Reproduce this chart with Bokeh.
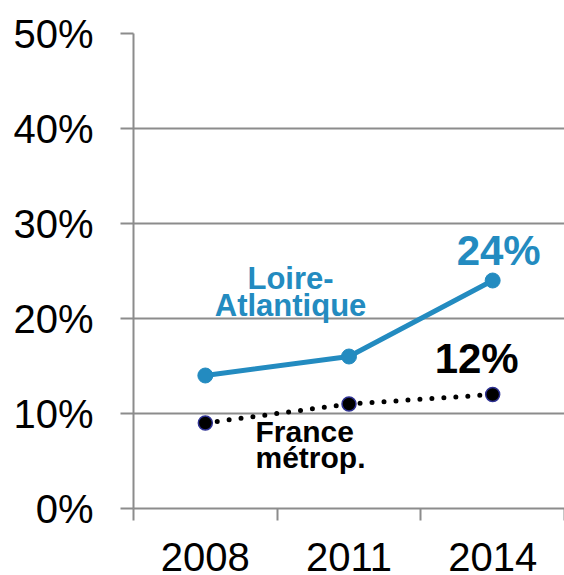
from bokeh.plotting import figure
from bokeh.models import Range1d, FixedTicker, Label
from bokeh.embed import file_html
from bokeh.resources import INLINE

years = ["2008", "2011", "2014"]
loire = [14, 16, 24]
france = [9, 11, 12]
yticks = [0, 10, 20, 30, 40, 50]

BLUE = "#238BC0"
GRAY = "#8C8C8C"
FONT = "Liberation Sans"

xs = [i + 0.5 for i in range(len(years))]
bounds = list(range(len(years) + 1))

p = figure(width=564, height=575, output_backend="svg", toolbar_location=None,
           x_range=Range1d(0, len(years)), y_range=Range1d(0, 50),
           min_border_left=133, min_border_right=0, min_border_top=33, min_border_bottom=67)
p.outline_line_color = None
p.background_fill_color = "white"
p.border_fill_color = "white"

# grid
p.xgrid.visible = False
p.ygrid.ticker = FixedTicker(ticks=yticks)
p.ygrid.grid_line_color = GRAY
p.ygrid.grid_line_width = 2

# y axis
p.yaxis.ticker = FixedTicker(ticks=yticks)
p.yaxis.major_label_overrides = {t: f"{t}%" for t in yticks}
p.yaxis.axis_line_color = GRAY
p.yaxis.axis_line_width = 2
p.yaxis.major_tick_line_color = GRAY
p.yaxis.major_tick_line_width = 2
p.yaxis.major_tick_out = 13
p.yaxis.major_tick_in = 0
p.yaxis.minor_tick_line_color = None
p.yaxis.major_label_standoff = 27
p.yaxis.major_label_text_font = FONT
p.yaxis.major_label_text_font_size = "40px"
p.yaxis.major_label_text_color = "black"

# x axis
p.xaxis.ticker = FixedTicker(ticks=xs, minor_ticks=bounds)
p.xaxis.major_label_overrides = {x: y for x, y in zip(xs, years)}
p.xaxis.axis_line_color = GRAY
p.xaxis.axis_line_width = 2
p.xaxis.major_tick_line_color = None
p.xaxis.major_tick_out = 0
p.xaxis.major_tick_in = 0
p.xaxis.minor_tick_line_color = GRAY
p.xaxis.minor_tick_line_width = 2
p.xaxis.minor_tick_out = 12
p.xaxis.minor_tick_in = 0
p.xaxis.major_label_standoff = 22
p.xaxis.major_label_text_font = FONT
p.xaxis.major_label_text_font_size = "40px"
p.xaxis.major_label_text_color = "black"

# series
p.line(xs, loire, line_color=BLUE, line_width=5)
p.scatter(xs, loire, size=15, fill_color=BLUE, line_color=BLUE)
p.line(xs, france, line_color="black", line_width=5, line_dash="0 12", line_cap="round")
p.scatter(xs, france, size=14, fill_color="black", line_color="#2E3192", line_width=1.5)

# labels
p.add_layout(Label(x=xs[-1], y=loire[-1], text=f"{loire[-1]}%", x_offset=6, y_offset=30.5,
                   text_align="center", text_baseline="alphabetic", text_font=FONT,
                   text_font_style="bold", text_font_size="42px", text_color=BLUE))
p.add_layout(Label(x=xs[-1], y=france[-1], text=f"{france[-1]}%", x_offset=-16, y_offset=36.5,
                   text_align="center", text_baseline="alphabetic", text_font=FONT,
                   text_font_style="bold", text_font_size="42px", text_color="black"))
for txt, yy in [("Loire-", 24.26), ("Atlantique", 21.36)]:
    p.add_layout(Label(x=1.093, y=yy, text=txt, text_align="center", text_baseline="alphabetic",
                       text_font=FONT, text_font_style="bold", text_font_size="31px",
                       text_color=BLUE))
for txt, yy in [("France", 8.12), ("métrop.", 5.39)]:
    p.add_layout(Label(x=0.849, y=yy, text=txt, text_align="left", text_baseline="alphabetic",
                       text_font=FONT, text_font_style="bold", text_font_size="30px",
                       text_color="black"))

open("out.html", "w").write(file_html(p, INLINE))
